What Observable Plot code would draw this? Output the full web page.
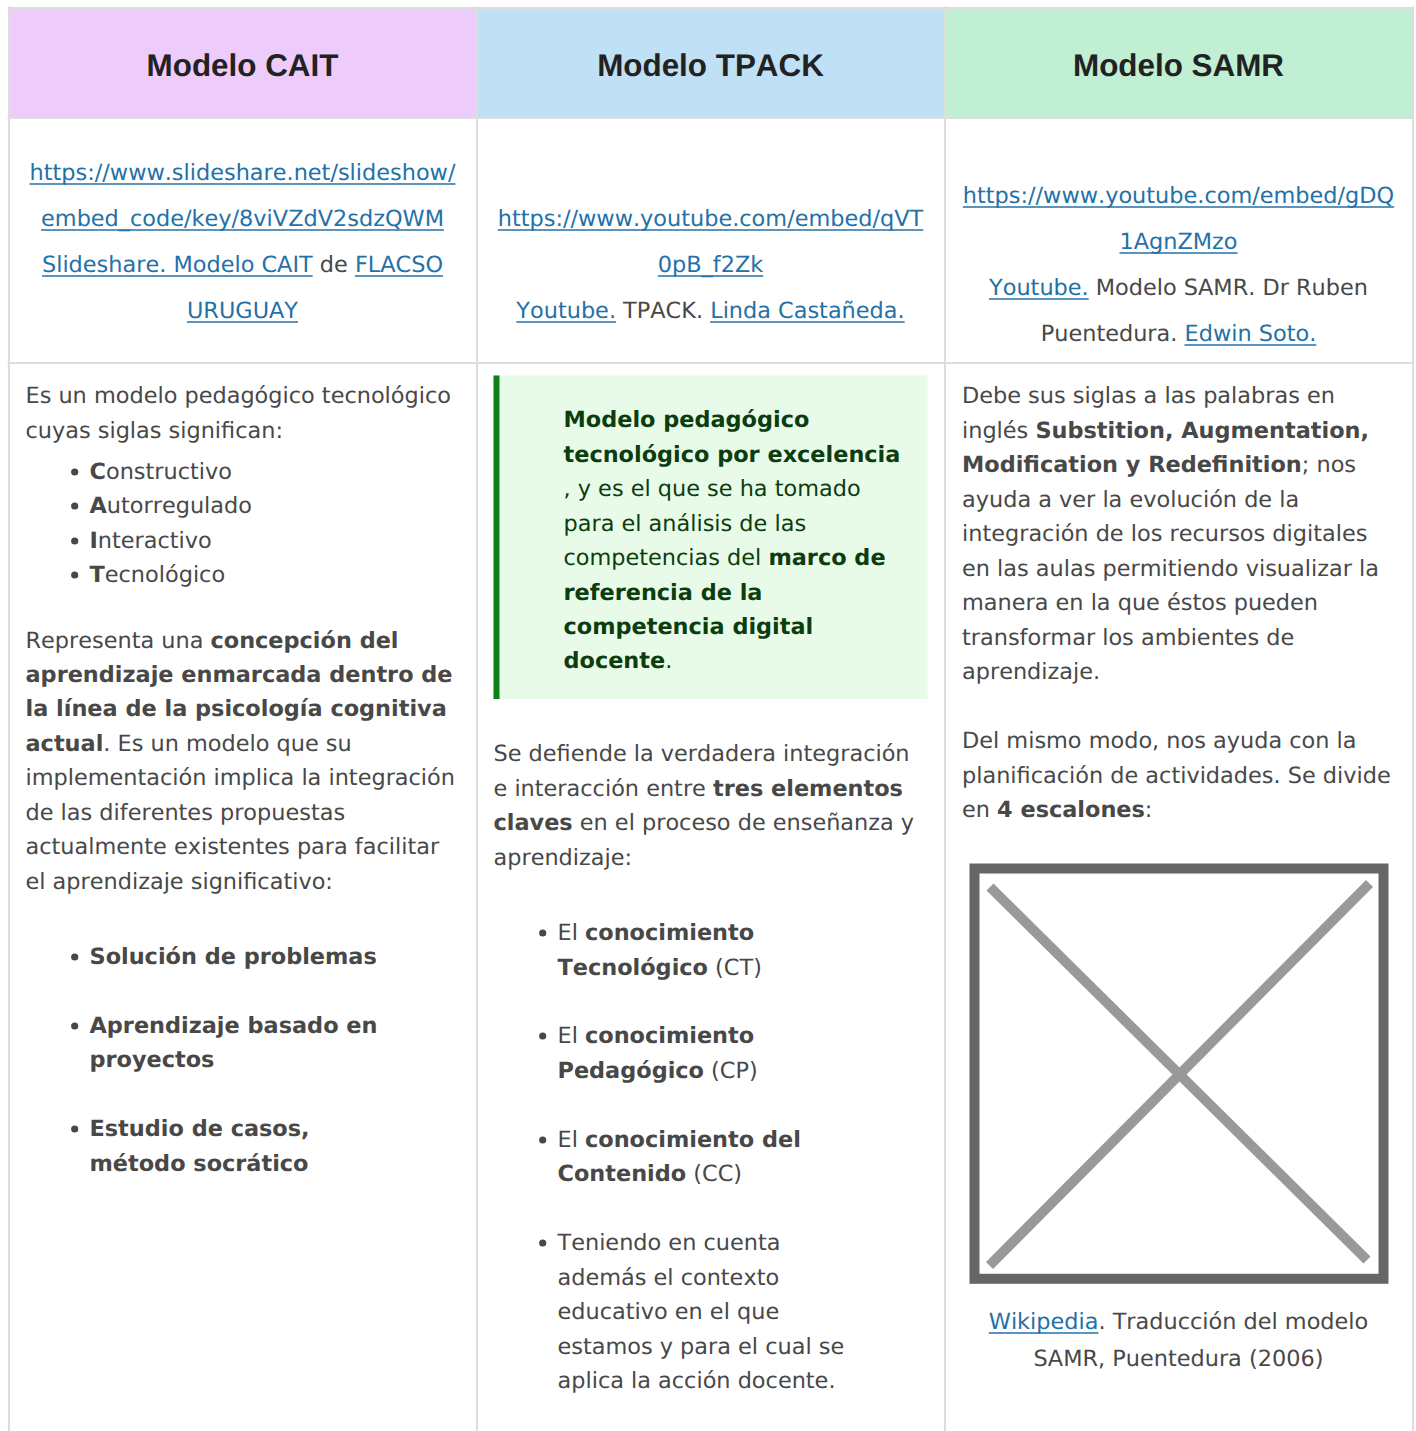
<!DOCTYPE html>
<html><head><meta charset="utf-8">
<script src="https://cdn.jsdelivr.net/npm/d3@7"></script>
<script src="https://cdn.jsdelivr.net/npm/@observablehq/plot@0.6"></script>
<style>html,body{margin:0;padding:0;background:#fff}svg{display:block}svg text{text-rendering:geometricPrecision;font-kerning:none}</style>
</head><body><div id="c"></div>
<script>
// Contenido: n = normal, b = negrita, l = enlace
const headers = ["Modelo CAIT","Modelo TPACK","Modelo SAMR"];
const linksCait = [[["l","https://www.slideshare.net/slideshow/"]],[["l","embed_code/key/8viVZdV2sdzQWM"]],[["l","Slideshare. Modelo CAIT"],["n"," de "],["l","FLACSO"]],[["l","URUGUAY"]]];
const linksTpack = [[["l","https://www.youtube.com/embed/qVT"]],[["l","0pB_f2Zk"]],[["l","Youtube."],["n"," TPACK. "],["l","Linda Castañeda."]]];
const linksSamr = [[["l","https://www.youtube.com/embed/gDQ"]],[["l","1AgnZMzo"]],[["l","Youtube."],["n"," Modelo SAMR. Dr Ruben"]],[["n","Puentedura. "],["l","Edwin Soto."]]];
const caitBody = [
 [["n","Es un modelo pedagógico tecnológico"]],[["n","cuyas siglas significan:"]]];
const caitList = [[["b","C"],["n","onstructivo"]],[["b","A"],["n","utorregulado"]],[["b","I"],["n","nteractivo"]],[["b","T"],["n","ecnológico"]]];
const caitPara = [[["n","Representa una "],["b","concepción del"]],[["b","aprendizaje enmarcada dentro de"]],[["b","la línea de la psicología cognitiva"]],[["b","actual"],["n",". Es un modelo que su"]],[["n","implementación implica la integración"]],[["n","de las diferentes propuestas"]],[["n","actualmente existentes para facilitar"]],[["n","el aprendizaje significativo:"]]];
const caitList2 = [[["b","Solución de problemas"]],[["b","Aprendizaje basado en"]],[["b","proyectos"]],[["b","Estudio de casos,"]],[["b","método socrático"]]];
const tpackBox = [[["gb","Modelo pedagógico"]],[["gb","tecnológico por excelencia"]],[["g",", y es el que se ha tomado"]],[["g","para el análisis de las"]],[["g","competencias del "],["gb","marco de"]],[["gb","referencia de la"]],[["gb","competencia digital"]],[["gb","docente"],["g","."]]];
const tpackPara = [[["n","Se defiende la verdadera integración"]],[["n","e interacción entre "],["b","tres elementos"]],[["b","claves"],["n"," en el proceso de enseñanza y"]],[["n","aprendizaje:"]]];
const tpackList = [[["n","El "],["b","conocimiento"]],[["b","Tecnológico"],["n"," (CT)"]],[["n","El "],["b","conocimiento"]],[["b","Pedagógico"],["n"," (CP)"]],[["n","El "],["b","conocimiento del"]],[["b","Contenido"],["n"," (CC)"]],[["n","Teniendo en cuenta"]],[["n","además el contexto"]],[["n","educativo en el que"]],[["n","estamos y para el cual se"]],[["n","aplica la acción docente."]]];
const samrPara = [[["n","Debe sus siglas a las palabras en"]],[["n","inglés "],["b","Substition, Augmentation,"]],[["b","Modification y Redefinition"],["n","; nos"]],[["n","ayuda a ver la evolución de la"]],[["n","integración de los recursos digitales"]],[["n","en las aulas permitiendo visualizar la"]],[["n","manera en la que éstos pueden"]],[["n","transformar los ambientes de"]],[["n","aprendizaje."]],[["n","Del mismo modo, nos ayuda con la"]],[["n","planificación de actividades. Se divide"]],[["n","en "],["b","4 escalones"],["n",":"]]];
const samrCaption = [[["l","Wikipedia"],["n",". Traducción del modelo"]],[["n","SAMR, Puentedura (2006)"]]];

// Líneas base
const yLinksCait=[180,226,272,318], yLinksTpack=[226,272,318], yLinksSamr=[203,249,295,341];
const yCaitBody=[403,438], yCaitList=[479,513,548,582], yCaitPara=[648,682,716,751,785,820,854,889], yCaitList2=[964,1033,1067,1136,1171];
const yBox=[427,462,496,531,565,600,634,668], yTpackPara=[761,796,830,865], yTpackList=[940,975,1043,1078,1147,1181,1250,1285,1319,1354,1388];
const ySamr=[403,438,472,507,541,576,610,645,679,748,783,817], yCaption=[1329,1366];
const bulletsCait=[472,506,541,575,957,1026,1129], bulletsTpack=[933,1036,1140,1243];

const FONT="DejaVu Sans", SIZE=22.4, COLW=[243,711,1179];
const ctx=document.createElement("canvas").getContext("2d");
ctx.textRendering="geometricPrecision";ctx.fontKerning="none";
const isBold=s=>s==="b"||s==="gb";
const meas=(t,s)=>{ctx.font=`${isBold(s)?"bold ":""}${SIZE}px "${FONT}"`;return ctx.measureText(t).width;};
const runs=[];
function layout(lines,ys,x,center){
  lines.forEach((ln,i)=>{
    const w=ln.map(([s,t])=>meas(t,s));
    let cx=center?x-d3.sum(w)/2:x;
    ln.forEach(([s,t],k)=>{
      const lead=t.length-t.trimStart().length;
      const off=lead?meas(t.slice(0,lead),s):0;
      runs.push({s,text:t.trim(),x:cx+off,y:ys[i],x2:cx+off+meas(t.trim(),s)});
      cx+=w[k];
    });
  });
}
layout(linksCait,yLinksCait,COLW[0],true);
layout(linksTpack,yLinksTpack,COLW[1],true);
layout(linksSamr,yLinksSamr,COLW[2],true);
layout(caitBody,yCaitBody,26);layout(caitList,yCaitList,90);layout(caitPara,yCaitPara,26);layout(caitList2,yCaitList2,90);
layout(tpackBox,yBox,564);layout(tpackPara,yTpackPara,494);layout(tpackList,yTpackList,558);
layout(samrPara,ySamr,962.5);layout(samrCaption,yCaption,1179,true);

const headerCells=[{x1:9,x2:477,f:"#edcbfb"},{x1:477,x2:945,f:"#c0e0f5"},{x1:945,x2:1413,f:"#c0efd4"}];
const vGrid=[9,477,945,1413], hGrid=[8,118,363];
const STYLES={n:["#484848","normal"],b:["#484848","bold"],l:["#2471a8","normal"],g:["#0c3d0f","normal"],gb:["#0c3d0f","bold"]};
const textMarks=Object.entries(STYLES).map(([s,[fill,fontWeight]])=>Plot.text(runs.filter(r=>r.s===s),{x:"x",y:"y",text:"text",textAnchor:"start",lineAnchor:"bottom",fontFamily:FONT,fontSize:SIZE,fill,fontWeight,dx:-0.5,dy:-0.5}));

const plot=Plot.plot({
  width:1416,height:1431,margin:0,
  x:{domain:[0,1416],range:[-0.5,1415.5],axis:null},
  y:{domain:[0,1431],range:[-0.5,1430.5],axis:null},
  marks:[
    Plot.rect(headerCells,{x1:"x1",x2:"x2",y1:9,y2:118,fill:"f"}),
    Plot.ruleX(vGrid,{y1:7,y2:1432,stroke:"#dddddd",strokeWidth:2}),
    Plot.ruleY(hGrid,{x1:8,x2:1414,stroke:"#dddddd",strokeWidth:2}),
    Plot.rect([{a:494,b:928}],{x1:"a",x2:"b",y1:376,y2:699.5,fill:"#e8fbe8"}),
    Plot.rect([{a:494,b:500}],{x1:"a",x2:"b",y1:376,y2:699.5,fill:"#0f7f1a"}),
    Plot.text(headers,{x:(d,i)=>COLW[i],y:76,text:d=>d,textAnchor:"middle",lineAnchor:"bottom",fontFamily:"Liberation Sans",fontWeight:"bold",fontSize:31.4,fill:"#222222",dx:-0.5,dy:-0.5}),
    ...textMarks,
    Plot.ruleY(runs.filter(r=>r.s==="l"),{x1:"x",x2:"x2",y:d=>d.y+4,stroke:"#2471a8",strokeWidth:1.3}),
    Plot.dot(bulletsCait,{x:74.7,y:d=>d,r:3.6,fill:"#484848",stroke:null}),
    Plot.dot(bulletsTpack,{x:542.7,y:d=>d,r:3.6,fill:"#484848",stroke:null}),
    Plot.rect([{a:975,b:1384}],{x1:"a",x2:"b",y1:869,y2:1279.3,fill:"#fff",stroke:"#666666",strokeWidth:10}),
    Plot.link([{a:990,b:887,c:1367,d:1260},{a:1369.5,b:883.5,c:989.5,d:1265.5}],{x1:"a",y1:"b",x2:"c",y2:"d",stroke:"#999999",strokeWidth:10})
  ]
});
document.getElementById("c").appendChild(plot);
</script></body></html>
